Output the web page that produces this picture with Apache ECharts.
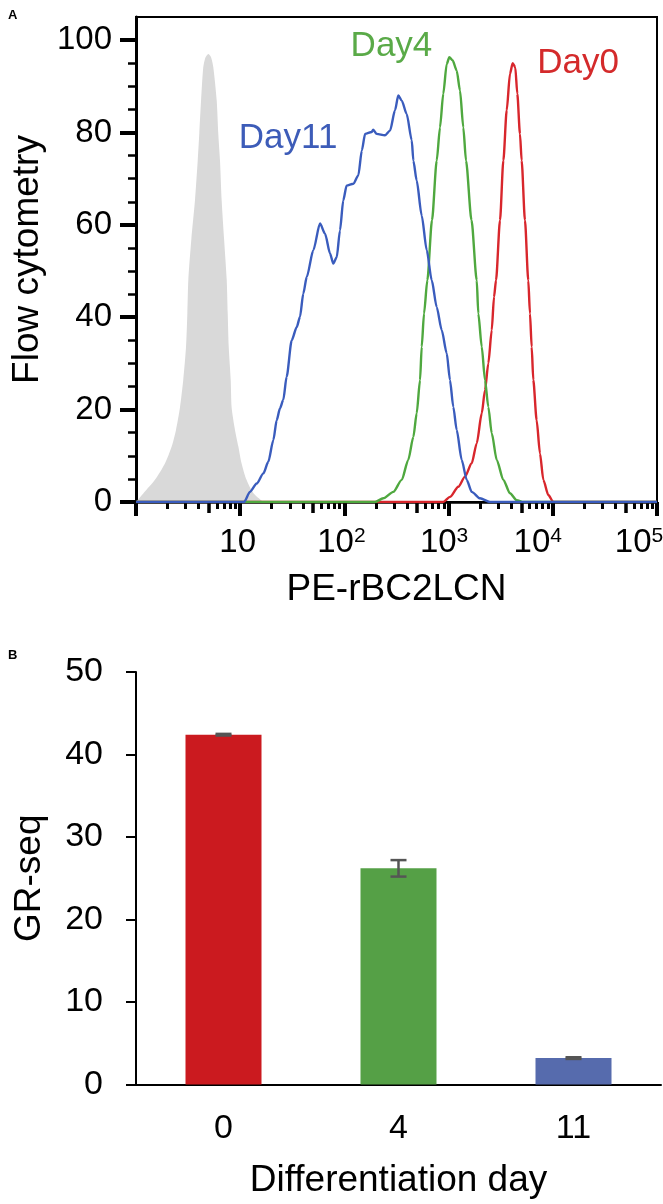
<!DOCTYPE html>
<html>
<head>
<meta charset="utf-8">
<script src="https://cdn.jsdelivr.net/npm/echarts@6/dist/echarts.min.js"></script>
<style>
    html, body { margin: 0; padding: 0; background: #fff; }
    #chart { width: 663px; height: 1204px; }
</style>
</head>
<body>
<div id="chart"></div>
<script>
// Panel A - histograms, [PE-rBC2LCN intensity, cell count]
const isotype = [
    [1.0, 0], [1.18, 1.9], [1.52, 4.8], [1.9, 8.4], [2.2, 12], [2.42, 15.6], [2.64, 20.4],
    [2.84, 26.4], [3.02, 33.6], [3.11, 40.8], [3.18, 48.2], [3.4, 57], [3.68, 65.3], [3.91, 73.9],
    [4.05, 79.8], [4.21, 86.9], [4.42, 94.1], [4.63, 96.2], [4.94, 97], [5.25, 96.3], [5.52, 94.1],
    [5.95, 86.9], [6.16, 79.8], [6.4, 73.9], [6.64, 65.3], [7.0, 57], [7.42, 48.2], [7.59, 40.8],
    [7.76, 33.6], [8.11, 26.4], [8.28, 20.4], [8.91, 15.6], [9.6, 12], [10.3, 8.4], [11.5, 4.8],
    [13.4, 1.9], [16.7, 0]
];

const day0 = [
    [1, 0], [889, 0], [1031, 1.1], [1239, 3.3], [1437, 5.5], [1667, 8.4], [1862, 12.7],
    [2080, 19.2], [2235, 24.2], [2405, 30], [2594, 37.2], [2728, 44.4], [2852, 48], [3114, 61],
    [3352, 73.9], [3611, 84.8], [3882, 92.7], [4121, 95], [4365, 94.1], [4563, 88.4], [4841, 79.7],
    [5025, 73.9], [5404, 61], [5816, 48], [6039, 40.8], [6270, 33.6], [6500, 26.4], [6998, 17.7],
    [7534, 10.5], [8111, 4.8], [9057, 1.5], [10114, 0], [100000, 0]
];

const day4 = [
    [1, 0], [197, 0], [236, 0.8], [295, 2.2], [355, 4.8], [410, 9.1], [459, 14.1], [494, 19.2],
    [532, 26.4], [552, 33.6], [581, 40.8], [625, 48], [693, 61], [769, 73.9], [827, 81.1],
    [889, 88.4], [959, 94.8], [1016, 96.3], [1094, 95.6], [1196, 93.4], [1286, 89.1], [1384, 81.1],
    [1469, 73.9], [1659, 61], [1862, 48], [1928, 40.8], [2080, 33.6], [2235, 26.4], [2405, 20.6],
    [2594, 14.9], [2897, 9.1], [3352, 4.8], [3882, 1.9], [4505, 0.4], [5214, 0], [100000, 0]
];

const day11 = [
    [1, 0], [10.9, 0], [12.4, 2.2], [14.4, 4.0], [16.7, 6.2], [18.6, 8.7], [20.8, 13.4],
    [22.4, 17.7], [24.1, 20.3], [25.9, 22.1], [27.9, 27.1], [31.2, 35.0], [34.9, 37.9],
    [37.5, 40.1], [40.3, 45.1], [43.5, 48.7], [50.3, 54.5], [58.3, 60.3], [65.2, 58.1],
    [72.8, 53.8], [78.2, 51.6], [84.4, 53.0], [90.7, 58.8], [97.5, 65.3], [105, 68.5],
    [122, 68.9], [136, 70.7], [147, 76.1], [158, 79.7], [183, 80.1], [189, 80.6], [204, 79.7],
    [245, 79.4], [274, 80.4], [306, 84.8], [329, 88.0], [355, 86.9], [396, 84.0], [443, 78.3],
    [459, 73.9], [494, 69.6], [552, 62.0], [617, 54.5], [689, 48.0], [769, 42.2], [859, 37.2],
    [959, 32.2], [1031, 26.4], [1109, 20.6], [1196, 15.6], [1336, 9.1], [1492, 4.8], [1667, 2.2],
    [2000, 0.8], [2495, 0], [100000, 0]
];

const yTicksA = [0, 20, 40, 60, 80, 100];
const yMinorA = [5, 10, 15, 25, 30, 35, 45, 50, 55, 65, 70, 75, 85, 90, 95];
const decades = [1, 10, 100, 1000, 10000];

// Panel B - GR-seq by differentiation day
const days = ['0', '4', '11'];
const grSeq = [42.4, 26.2, 3.2];
const grSeqErr = [0.1, 1.0, 0.1];
const barColors = ['#cb1a1f', '#55a046', '#566bad'];

const FONT = 'Liberation Sans, Arial, sans-serif';

const minorShort = [];
const minorMid = [];
decades.forEach(d => {
    [2, 3, 4, 6, 7, 8, 9].forEach(k => minorShort.push(Math.log10(k * d)));
    minorMid.push(Math.log10(5 * d));
});

// the original x labels sit a little left of their ticks, more so on the right
const supPad = { 2: 6, 3: 9, 4: 30, 5: 36 };
const expRich = {
    b: { fontSize: 33, fontFamily: FONT, color: '#000' },
    b1: { fontSize: 33, fontFamily: FONT, color: '#000', padding: [0, 5, 0, 0] }
};
Object.keys(supPad).forEach(p => {
    expRich['s' + p] = {
        fontSize: 21, fontFamily: FONT, color: '#000', verticalAlign: 'top',
        padding: [0, supPad[p], 0, 0]
    };
});

const gridA = { left: 136, top: 17, width: 521, height: 485, outerBoundsMode: 'none', containLabel: false };

let chart = echarts.init(document.getElementById('chart'), null, { renderer: 'canvas' });

let lineSeries = (name, data, color) => ({
    name: name,
    type: 'line',
    xAxisIndex: 0,
    yAxisIndex: 0,
    data: data,
    showSymbol: false,
    symbol: 'none',
    smooth: 0.25,
    smoothMonotone: 'x',
    lineStyle: { color: color, width: 2.4 },
    itemStyle: { color: color },
    z: 3
});

let dayLabel = (text, coord, color) => ({
    symbol: 'circle',
    symbolSize: 1,
    itemStyle: { color: 'rgba(0,0,0,0)' },
    label: {
        show: true,
        position: 'inside',
        formatter: text,
        color: color,
        fontFamily: FONT,
        fontSize: 35
    },
    data: [{ coord: coord }]
});

let option = {
    animation: false,
    backgroundColor: '#fff',
    textStyle: { fontFamily: FONT },
    title: [
        { text: 'A', left: 3, top: 4, textStyle: { fontSize: 13, fontWeight: 'bold', color: '#000', fontFamily: FONT } },
        { text: 'B', left: 3, top: 644, textStyle: { fontSize: 13, fontWeight: 'bold', color: '#000', fontFamily: FONT } }
    ],
    grid: [
        Object.assign({ show: true, borderColor: '#000', borderWidth: 2, backgroundColor: 'transparent' }, gridA),
        Object.assign({}, gridA),
        Object.assign({}, gridA),
        { left: 136, top: 672, width: 525, height: 412.5, outerBoundsMode: 'none', containLabel: false }
    ],
    xAxis: [
        {
            gridIndex: 0,
            type: 'log',
            logBase: 10,
            min: 1,
            max: 100000,
            name: 'PE-rBC2LCN',
            nameLocation: 'middle',
            nameGap: 69,
            nameTextStyle: { fontSize: 37, color: '#000', fontFamily: FONT },
            axisLine: { lineStyle: { color: '#000', width: 2.5 } },
            axisTick: { length: 14, lineStyle: { color: '#000', width: 4 } },
            splitLine: { show: false },
            axisLabel: {
                margin: 24,
                color: '#000',
                formatter: v => {
                    let p = Math.round(Math.log10(v));
                    if (p === 0) return '';
                    if (p === 1) return '{b1|10}';
                    return '{b|10}{s' + p + '|' + p + '}';
                },
                rich: expRich
            }
        },
        {
            gridIndex: 1,
            type: 'value',
            min: 0,
            max: 5,
            axisLine: { show: false },
            axisLabel: { show: false },
            splitLine: { show: false },
            axisTick: { show: true, customValues: minorShort, length: 7, lineStyle: { color: '#000', width: 3 } }
        },
        {
            gridIndex: 2,
            type: 'value',
            min: 0,
            max: 5,
            axisLine: { show: false },
            axisLabel: { show: false },
            splitLine: { show: false },
            axisTick: { show: true, customValues: minorMid, length: 11, lineStyle: { color: '#000', width: 3.5 } }
        },
        {
            gridIndex: 3,
            type: 'category',
            data: days,
            name: 'Differentiation day',
            nameLocation: 'middle',
            nameGap: 78,
            nameTextStyle: { fontSize: 37, color: '#000', fontFamily: FONT },
            axisLine: { lineStyle: { color: '#000', width: 2 } },
            axisTick: { show: false },
            axisLabel: { margin: 27, fontSize: 34, color: '#000', fontFamily: FONT }
        }
    ],
    yAxis: [
        {
            gridIndex: 0,
            type: 'value',
            min: 0,
            max: 105,
            name: 'Flow cytometry',
            nameLocation: 'middle',
            nameGap: 88,
            nameTextStyle: { fontSize: 37, color: '#000', fontFamily: FONT },
            axisLine: { show: true, lineStyle: { color: '#000', width: 3 } },
            axisTick: { show: true, customValues: yTicksA, length: 16, lineStyle: { color: '#000', width: 4 } },
            axisLabel: { customValues: yTicksA, margin: 24, fontSize: 33, color: '#000', fontFamily: FONT },
            splitLine: { show: false }
        },
        {
            gridIndex: 1,
            type: 'value',
            min: 0,
            max: 105,
            axisLine: { show: false },
            axisLabel: { show: false },
            splitLine: { show: false },
            axisTick: { show: true, customValues: yMinorA, length: 8, lineStyle: { color: '#000', width: 2.5 } }
        },
        {
            gridIndex: 2,
            type: 'value',
            min: 0,
            max: 105,
            show: false
        },
        {
            gridIndex: 3,
            type: 'value',
            min: 0,
            max: 50,
            interval: 10,
            name: 'GR-seq',
            nameLocation: 'middle',
            nameGap: 88,
            nameTextStyle: { fontSize: 37, color: '#000', fontFamily: FONT },
            axisLine: { show: true, lineStyle: { color: '#000', width: 2 } },
            axisTick: { show: true, length: 10, lineStyle: { color: '#000', width: 2 } },
            axisLabel: { margin: 33, fontSize: 34, color: '#000', fontFamily: FONT },
            splitLine: { show: false }
        }
    ],
    series: [
        {
            name: 'control',
            type: 'line',
            xAxisIndex: 0,
            yAxisIndex: 0,
            data: isotype,
            showSymbol: false,
            symbol: 'none',
            smooth: 0.25,
            lineStyle: { width: 0 },
            areaStyle: { color: '#d9d9d9', opacity: 1 },
            z: 2
        },
        Object.assign(lineSeries('Day0', day0, '#d8262c'), {
            markPoint: dayLabel('Day0', [17460, 95], '#d42a2b')
        }),
        Object.assign(lineSeries('Day4', day4, '#4fa83f'), {
            markPoint: dayLabel('Day4', [283, 98.7], '#5aaa48')
        }),
        Object.assign(lineSeries('Day11', day11, '#3a5cbd'), {
            markPoint: dayLabel('Day11', [28.8, 78.7], '#3d5cb8')
        }),
        {
            name: 'GR-seq',
            type: 'bar',
            xAxisIndex: 3,
            yAxisIndex: 3,
            barWidth: 76,
            data: grSeq.map((v, i) => ({ value: v, itemStyle: { color: barColors[i] } }))
        },
        {
            name: 'error',
            type: 'custom',
            xAxisIndex: 3,
            yAxisIndex: 3,
            z: 5,
            data: grSeq.map((v, i) => [i, v, grSeqErr[i]]),
            renderItem: (params, api) => {
                let x = api.value(0);
                let hi = api.coord([x, api.value(1) + api.value(2)]);
                let lo = api.coord([x, api.value(1) - api.value(2)]);
                let half = 8;
                let style = { stroke: '#555', lineWidth: 2.5 };
                return {
                    type: 'group',
                    children: [
                        { type: 'line', shape: { x1: hi[0], y1: hi[1], x2: lo[0], y2: lo[1] }, style: style },
                        { type: 'line', shape: { x1: hi[0] - half, y1: hi[1], x2: hi[0] + half, y2: hi[1] }, style: style },
                        { type: 'line', shape: { x1: lo[0] - half, y1: lo[1], x2: lo[0] + half, y2: lo[1] }, style: style }
                    ]
                };
            }
        }
    ]
};

chart.setOption(option);
</script>
</body>
</html>
